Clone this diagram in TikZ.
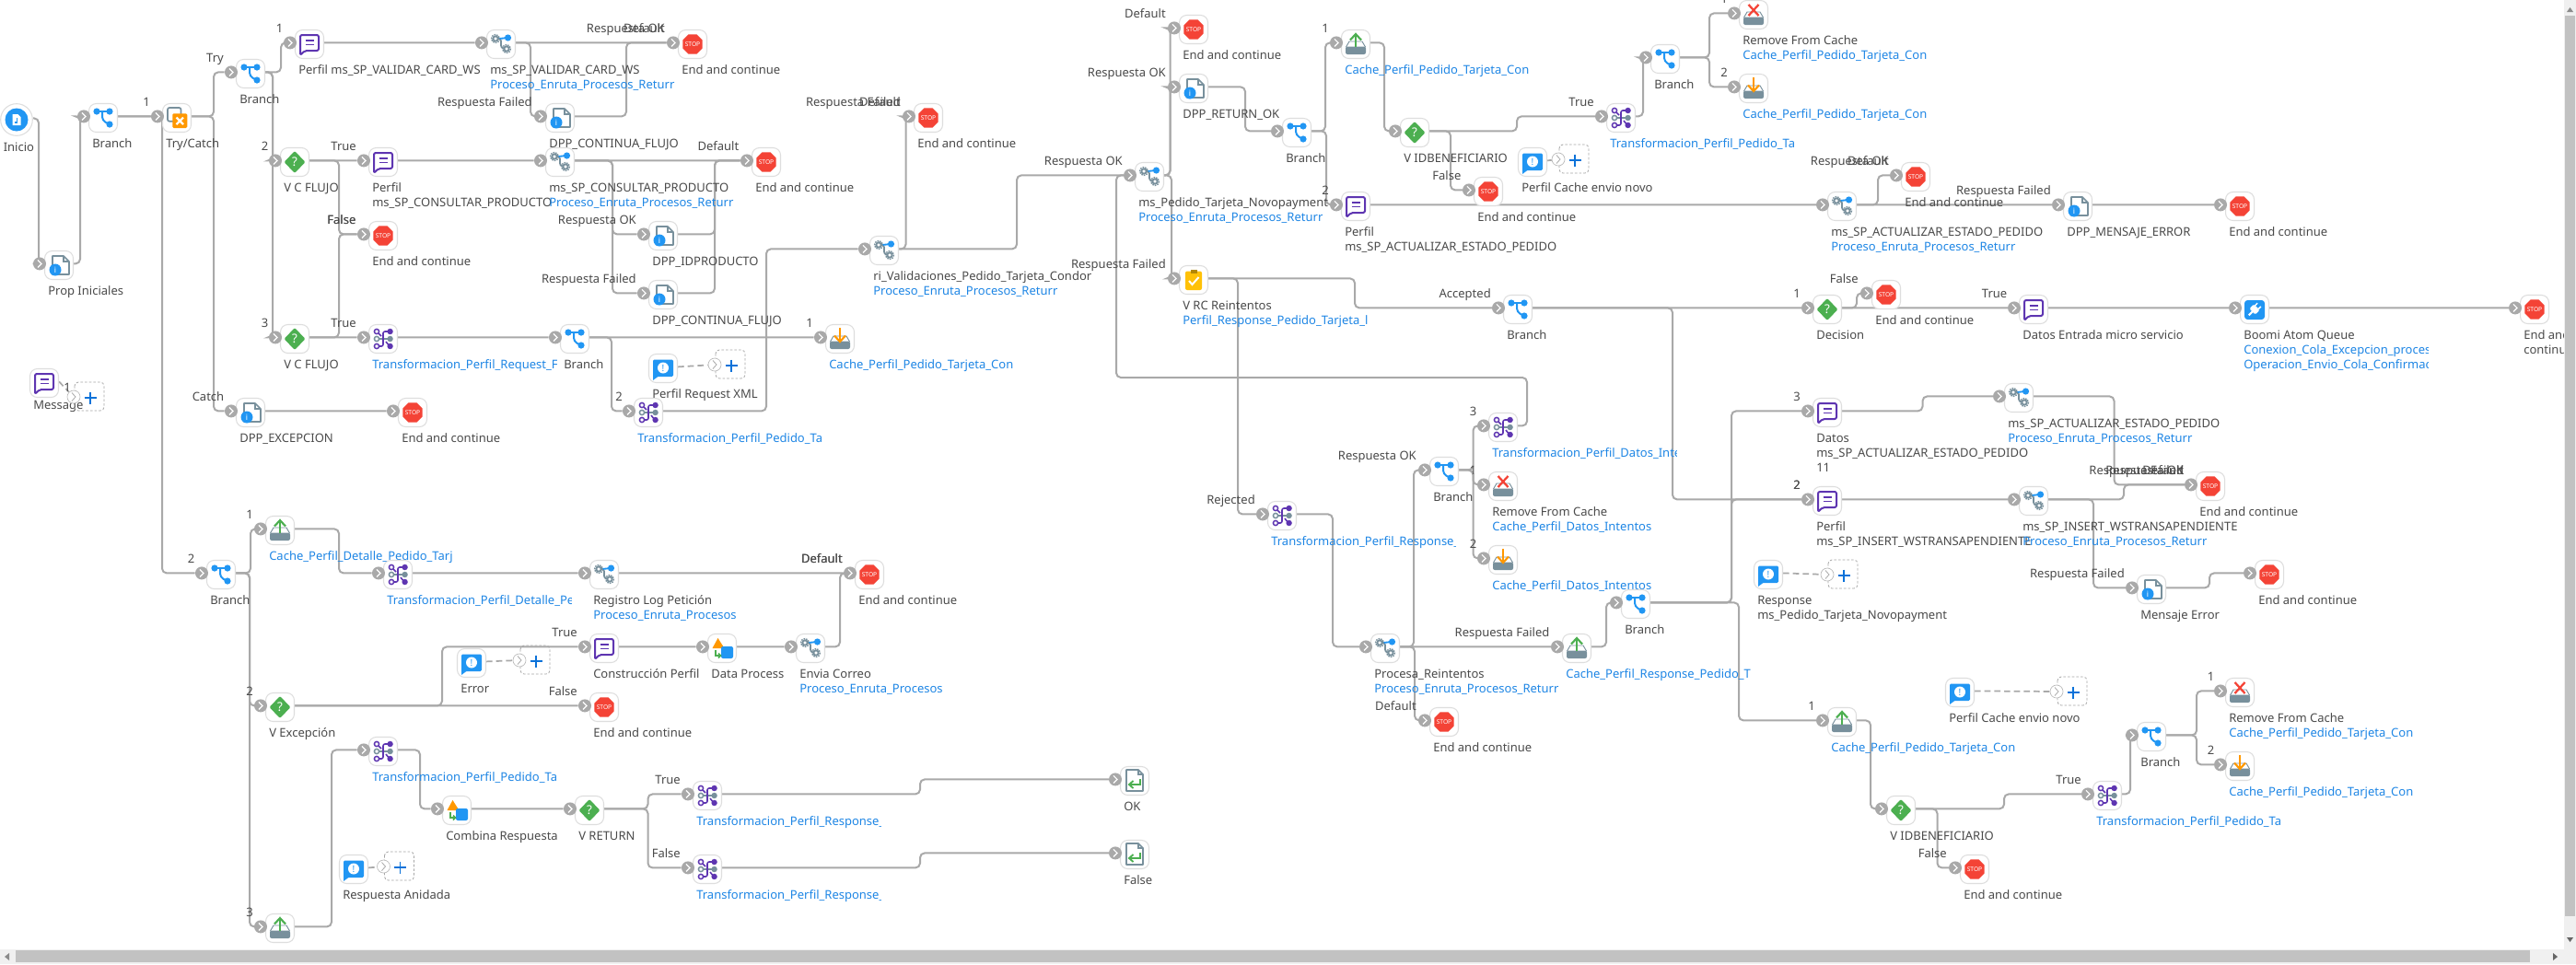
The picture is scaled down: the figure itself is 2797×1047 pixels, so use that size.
\documentclass[tikz,border=0pt]{standalone}
\usepackage{fontspec}
\setmainfont{Noto Sans}
\newcounter{lbl}
\pgfdeclarelayer{bg}
\pgfsetlayers{bg,main}
\definecolor{cwire}{HTML}{A9A9A9}
\definecolor{cborder}{HTML}{DEDEDE}
\definecolor{ctext}{HTML}{4A4A4A}
\definecolor{clink}{HTML}{1E86E5}
\definecolor{cblue}{HTML}{2196F3}
\definecolor{cslate}{HTML}{78909C}
\definecolor{cpurple}{HTML}{5E35B1}
\definecolor{cgreen}{HTML}{4CAF50}
\definecolor{cred}{HTML}{F44336}
\definecolor{corange}{HTML}{FF9800}
\definecolor{cyellow}{HTML}{FFC107}
\definecolor{cplus}{HTML}{0B72D9}
\tikzset{
 autoname/.code={\stepcounter{lbl}\tikzset{name=lbl\arabic{lbl}}},
 nbox/.style={draw=cborder,fill=white,line width=.8pt,rounded corners=6pt,minimum size=23.25pt,inner sep=0pt},
 startbox/.style={draw=cborder,fill=white,line width=.8pt,circle,minimum size=26pt,inner sep=0pt},
 portdot/.style={circle,fill=cwire,minimum size=10.5pt,inner sep=0pt},
 ghostdot/.style={circle,draw=cwire!80,fill=white,line width=.5pt,minimum size=10.5pt,inner sep=0pt},
 wire/.style={draw=cwire,line width=1.5pt,rounded corners=3.75pt},
 dashwire/.style={draw=cwire,line width=1.3pt,dash pattern=on 5pt off 3pt},
 glab/.style={autoname,anchor=base west,inner sep=0pt,text=ctext,font=\fontsize{9.75}{12}\selectfont},
 blab/.style={autoname,anchor=base west,inner sep=0pt,text=clink,font=\fontsize{9.75}{12}\selectfont},
 elab/.style={autoname,anchor=base east,inner sep=0pt,text=ctext,font=\fontsize{9.75}{12}\selectfont},
 nlab/.style={autoname,anchor=base,inner sep=0pt,text=ctext,font=\fontsize{9.75}{12}\selectfont},
 glyphw/.style={autoname,inner sep=0pt,text=white,font=\fontsize{6}{6}\selectfont\bfseries},
}
% --- icons
\newcommand\gearic[2]{\draw[cslate,line width=1.1pt,dash pattern=on 1.2pt off .8pt] (#1,#2) circle[radius=4.4];\draw[cslate,line width=1.3pt,fill=white] (#1,#2) circle[radius=2.6];}
\newcommand\icBranch{\draw[cblue,line width=1.5pt] (-7,-7)--(7,-7);\draw[cblue,line width=1.5pt,rounded corners=3pt] (-1,-7)--(-1,3)--(7,7);
 \fill[cblue] (-7,-7) circle[radius=3.6] (7,-7) circle[radius=3.6] (7,7) circle[radius=3.6];}
\newcommand\icProc{\draw[cslate,line width=1.4pt,rounded corners=2pt] (-5,-6)--(0,-6)--(0,4)--(6,5);\draw[cblue,line width=1.4pt] (-2,-6)--(7,-7);
 \gearic{-6}{-6}\gearic{6}{5}\fill[cblue] (7.5,-7) circle[radius=3.6];}
\newcommand\icMsg{\draw[cpurple,line width=1.5pt,line join=round,rounded corners=1.5pt] (-10,-10)--(10,-10)--(10,7)--(-5,7)--(-10,12)--cycle;
 \draw[cpurple,line width=1.3pt] (-4.5,-4)--(4.5,-4) (-4.5,.5)--(4.5,.5);}
\newcommand\icDec{\fill[cgreen,rounded corners=1pt] (0,-12)--(11.5,0)--(0,12)--(-11.5,0)--cycle;\node[glyphw,font=\fontsize{10}{10}\selectfont\bfseries] at (0,0) {?};}
\newcommand\icStop{\fill[cred] (22.5:11.5)--(67.5:11.5)--(112.5:11.5)--(157.5:11.5)--(202.5:11.5)--(247.5:11.5)--(292.5:11.5)--(337.5:11.5)--cycle;\node[glyphw,font=\fontsize{5}{5}\selectfont\bfseries] at (0,0) {STOP};}
\newcommand\icDocInfo{\draw[cslate,line width=1.2pt,line join=round,fill=white] (-7,-10)--(5,-10)--(11,-4)--(11,10)--(-7,10)--cycle;\draw[cslate,line width=1.1pt] (5,-10)--(5,-4)--(11,-4);
 \fill[cblue] (-4,5) circle[radius=6.5];\node[glyphw,font=\fontsize{6.5}{6.5}\selectfont\bfseries] at (-4,5) {i};}
\newcommand\icMap{\draw[cpurple,line width=1.1pt] (-7,-8) circle[radius=2.6] (-7,8) circle[radius=2.6];\draw[cslate,line width=1.1pt] (-7,0) circle[radius=2.6];
 \draw[cpurple,line width=1.2pt,rounded corners=1.5pt] (-4.5,8)--(0,8)--(0,-8)--(7,-8);\draw[cpurple,line width=1.2pt] (-5,-6)--(-2,-3) (3,3)--(7,8);\draw[cslate,line width=1.1pt] (-4.5,0)--(-1,0) (1,0)--(7,0);
 \fill[cpurple] (7.6,-8) circle[radius=3.2] (7.6,8) circle[radius=3.2];\fill[cslate] (7.6,0) circle[radius=3.2];}
\newcommand\tray{\draw[cslate,line width=.7pt] (-10.5,3)--(-7,-3)--(7,-3)--(10.5,3);\fill[cslate,rounded corners=1.5pt] (-11,2.5) rectangle (11,11);}
\newcommand\icUp{\tray\draw[cgreen,line width=1.6pt] (0,3)--(0,-10);\draw[cgreen,line width=1.6pt] (-6,-4.5)--(0,-11)--(6,-4.5);}
\newcommand\icDown{\tray\draw[corange,line width=1.6pt] (0,-12)--(0,2);\draw[corange,line width=1.6pt] (-6,-3.5)--(0,3)--(6,-3.5);}
\newcommand\icDel{\tray\draw[cred,line width=1.7pt] (-5.5,-11)--(5.5,1) (5.5,-11)--(-5.5,1);}
\newcommand\icTry{\draw[cslate,line width=1.3pt,rounded corners=1.5pt] (-10,-11) rectangle (4.5,3.7);\fill[corange,rounded corners=1pt] (-4.7,-4.7) rectangle (11.3,11);
 \draw[white,line width=1.6pt] (-.5,-.5)--(7,7) (7,-.5)--(-.5,7);}
\newcommand\icRet{\draw[cslate,line width=1.3pt,line join=round,fill=white] (-9,-12)--(4,-12)--(9,-7)--(9,11)--(-9,11)--cycle;\draw[cslate,line width=1pt] (4,-12)--(4,-7)--(9,-7);
 \draw[cgreen,line width=1.4pt] (6,-2)--(6,4)--(-5,4);\draw[cgreen,line width=1.4pt] (-1.5,0)--(-6,4)--(-1.5,8);}
\newcommand\icData{\fill[corange] (-4.5,-11)--(2.5,0)--(-10.5,0)--cycle;\fill[cblue,rounded corners=1.5pt] (-1,-2) rectangle (12,11);
 \draw[cgreen,line width=1.4pt] (-7,2)--(-7,8)--(-2,8);\draw[cgreen,line width=1.2pt] (-4,5.5)--(-1.5,8)--(-4,10.5);}
\newcommand\icNote{\fill[cblue,rounded corners=1pt] (-11,-9.5) rectangle (11,9);\fill[cblue] (-11,8)--(-11,13)--(-5,8.5)--cycle;\fill[white] (0,-.5) circle[radius=6];
 \node[glyphw,text=cblue,font=\fontsize{7.5}{7.5}\selectfont\bfseries] at (0,-.5) {!};}
\newcommand\icBoomi{\fill[cblue,rounded corners=2.5pt] (-11,-10) rectangle (11,11);\begin{scope}[rotate=-45]\fill[white,rounded corners=1pt] (-4.5,-3.5) rectangle (4.5,3.5);\draw[white,line width=1.1pt] (-2.6,-7)--(-2.6,-3) (2.6,-7)--(2.6,-3);\draw[white,line width=1.6pt] (0,3)--(0,9);\end{scope}}
\newcommand\icCheck{\fill[cyellow,rounded corners=1.5pt] (-9,-9.5) rectangle (9,11);\fill[cyellow!70!black] (-3.5,-11.5) rectangle (3.5,-7);\draw[white,line width=1.5pt] (-5,1)--(-1.5,5)--(5.5,-3);}
% --- nodes
\newcommand\nd[4]{\node[nbox] (#1) at (#2,#3) {};\node[portdot] (#1-p) at ({#2-21},{#3-1.6}) {};
 \draw[white,line width=.9pt] ({#2-23},{#3-5.6})--({#2-19},{#3-1.6})--({#2-23},{#3+2.4});
 \begin{scope}[shift={(#2,#3)}]#4\end{scope}}
\newcommand\gh[3]{\draw[black!35,line width=.6pt,dash pattern=on 2pt off 1.5pt,rounded corners=3pt] ({#2+1},{#3-16}) rectangle ({#2+33},{#3+15});
 \node[ghostdot] (#1) at (#2,#3) {};\draw[cwire,line width=.6pt] ({#2-2},{#3-4.5})--({#2+2},{#3})--({#2-2},{#3+4.5});
 \draw[cplus,line width=1.2pt] ({#2+11.5},{#3+1})--({#2+24.5},{#3+1}) ({#2+18},{#3-5.5})--({#2+18},{#3+7.5});}
% --- labels
\newcommand\tg[4]{\node[glab] at ({#1-12},{#2+32.5+16*(#3-1)}) {#4};}
\newcommand\tb[4]{\begin{scope}\clip ({#1-12},{#2+32.5+16*(#3-1)-14}) rectangle ++(200,20);\node[blab] at ({#1-12},{#2+32.5+16*(#3-1)}) {#4};\end{scope}}
\newcommand\el[3]{\node[elab] at (#1,{#2+5}) {#3};}
\newcommand\nl[3]{\node[nlab] at (#1,{#2+5}) {#3};}
% --- connectors
\newcommand\cs[2]{\begin{pgfonlayer}{bg}\draw[wire] ([yshift=1.2pt]#1.east) -- (#2-p);\end{pgfonlayer}}
\newcommand\cv[3]{\begin{pgfonlayer}{bg}\draw[wire] ([yshift=1.2pt]#1.east) -| (#3,0 |- #2-p) -- (#2-p);\end{pgfonlayer}}
\newcommand\dv[2]{\begin{pgfonlayer}{bg}\draw[dashwire] ([yshift=1.2pt]#1.east) -- (#2);\end{pgfonlayer}}
\newcommand\E{End and continue}
\newcommand\PR{Proceso\_Enruta\_Procesos\_Returr}
\begin{document}
\begin{tikzpicture}[x=.75pt,y=-.75pt]
\useasboundingbox (0,0) rectangle (2797,1047);
\begin{pgfonlayer}{bg}\fill[white] (0,0) rectangle (2797,1047);\end{pgfonlayer}
% start
\node[startbox] (ini) at (18,130) {};
\fill[cblue] (18,130) circle[radius=12.5];
\fill[white] (13.5,124)--(19.5,124)--(22.5,127)--(22.5,136)--(13.5,136)--cycle;
\draw[cblue,line width=.8pt] (18.5,128)--(18.5,133)--(16,133);
\tg{15.5}{131.5}{1}{Inicio}
% main row nodes
\nd{prop}{64}{288}{\icDocInfo}\tg{64}{288}{1}{Prop Iniciales}
\nd{br1}{112}{128}{\icBranch}\tg{112}{128}{1}{Branch}
\nd{try}{192}{128}{\icTry}\tg{192}{128}{1}{Try/Catch}
\nd{brt}{272}{80}{\icBranch}\tg{272}{80}{1}{Branch}
\nd{pval}{336}{48}{\icMsg}\tg{336}{48}{1}{Perfil ms\_SP\_VALIDAR\_CARD\_WS}
\nd{sval}{544}{48}{\icProc}\tg{544}{48}{1}{ms\_SP\_VALIDAR\_CARD\_WS}\tb{544}{48}{2}{\PR}
\nd{dcon}{608}{128}{\icDocInfo}\tg{608}{128}{1}{DPP\_CONTINUA\_FLUJO}
\nd{st1}{752}{48}{\icStop}\tg{752}{48}{1}{\E}
\nd{vc1}{320}{176}{\icDec}\tg{320}{176}{1}{V C FLUJO}
\nd{pcon}{416}{176}{\icMsg}\tg{416}{176}{1}{Perfil}\tg{416}{176}{2}{ms\_SP\_CONSULTAR\_PRODUCTO}
\nd{scon}{608}{176}{\icProc}\tg{608}{176}{1}{ms\_SP\_CONSULTAR\_PRODUCTO}\tb{608}{176}{2}{\PR}
\nd{st2}{416}{256}{\icStop}\tg{416}{256}{1}{\E}
\nd{st3}{832}{176}{\icStop}\tg{832}{176}{1}{\E}
\nd{did}{720}{256}{\icDocInfo}\tg{720}{256}{1}{DPP\_IDPRODUCTO}
\nd{dcf}{720}{320}{\icDocInfo}\tg{720}{320}{1}{DPP\_CONTINUA\_FLUJO}
\nd{vc2}{320}{368}{\icDec}\tg{320}{368}{1}{V C FLUJO}
\nd{trq}{416}{368}{\icMap}\tb{416}{368}{1}{Transformacion\_Perfil\_Request\_F}
\nd{br2}{624}{368}{\icBranch}\tg{624}{368}{1}{Branch}
\nd{cch1}{912}{368}{\icDown}\tb{912}{368}{1}{Cache\_Perfil\_Pedido\_Tarjeta\_Con}
\nd{tpe1}{704}{448}{\icMap}\tb{704}{448}{1}{Transformacion\_Perfil\_Pedido\_Ta}
\nd{dex}{272}{448}{\icDocInfo}\tg{272}{448}{1}{DPP\_EXCEPCION}
\nd{st4}{448}{448}{\icStop}\tg{448}{448}{1}{\E}
\nd{rival}{960}{272}{\icProc}\tg{960}{272}{1}{ri\_Validaciones\_Pedido\_Tarjeta\_Condor}\tb{960}{272}{2}{\PR}
\nd{st5}{1008}{128}{\icStop}\tg{1008}{128}{1}{\E}
% annotation nodes
\node[nbox] (msg) at (48,416) {};\begin{scope}[shift={(48,416)}]\icMsg\end{scope}\tg{48}{411.5}{1}{Message}
\nl{73}{420}{1}
\gh{gmsg}{80}{431}\dv{msg}{gmsg}
\node[nbox] (prx) at (720,400) {};\begin{scope}[shift={(720,400)}]\icNote\end{scope}\tg{720}{400}{1}{Perfil Request XML}
\gh{gprx}{776}{396}\dv{prx}{gprx}
\node[nbox] (pce1) at (1664,176) {};\begin{scope}[shift={(1664,176)}]\icNote\end{scope}\tg{1664}{176}{1}{Perfil Cache envio novo}
\gh{gpce1}{1692}{173}\dv{pce1}{gpce1}
\node[nbox] (rsp) at (1920,624) {};\begin{scope}[shift={(1920,624)}]\icNote\end{scope}\tg{1920}{624}{1}{Response}\tg{1920}{624}{2}{ms\_Pedido\_Tarjeta\_Novopayment}
\gh{grsp}{1984}{624}\dv{rsp}{grsp}
\node[nbox] (pce2) at (2128,752) {};\begin{scope}[shift={(2128,752)}]\icNote\end{scope}\tg{2128}{752}{1}{Perfil Cache envio novo}
\gh{gpce2}{2233}{751}\dv{pce2}{gpce2}
\node[nbox] (err) at (512,720) {};\begin{scope}[shift={(512,720)}]\icNote\end{scope}\tg{512}{720}{1}{Error}
\gh{gerr}{564}{717}\dv{err}{gerr}
\node[nbox] (ran) at (384,944) {};\begin{scope}[shift={(384,944)}]\icNote\end{scope}\tg{384}{944}{1}{Respuesta Anidada}
\gh{gran}{416.5}{941}\dv{ran}{gran}
% middle
\nd{ped}{1248}{192}{\icProc}\tg{1248}{192}{1}{ms\_Pedido\_Tarjeta\_Novopayment}\tb{1248}{192}{2}{\PR}
\nd{st6}{1296}{32}{\icStop}\tg{1296}{32}{1}{\E}
\nd{dret}{1296}{96}{\icDocInfo}\tg{1296}{96}{1}{DPP\_RETURN\_OK}
\nd{vrc}{1296}{304}{\icCheck}\tg{1296}{304}{1}{V RC Reintentos}\tb{1296}{304}{2}{Perfil\_Response\_Pedido\_Tarjeta\_l}
\nd{br3}{1408}{144}{\icBranch}\tg{1408}{144}{1}{Branch}
\nd{cup1}{1472}{48}{\icUp}\tb{1472}{48}{1}{Cache\_Perfil\_Pedido\_Tarjeta\_Con}
\nd{vid1}{1536}{144}{\icDec}\tg{1536}{144}{1}{V IDBENEFICIARIO}
\nd{tpe2}{1760}{128}{\icMap}\tb{1760}{128}{1}{Transformacion\_Perfil\_Pedido\_Ta}
\nd{br4}{1808}{64}{\icBranch}\tg{1808}{64}{1}{Branch}
\nd{rm1}{1904}{16}{\icDel}\tg{1904}{16}{1}{Remove From Cache}\tb{1904}{16}{2}{Cache\_Perfil\_Pedido\_Tarjeta\_Con}
\nd{cdn1}{1904}{96}{\icDown}\tb{1904}{96}{1}{Cache\_Perfil\_Pedido\_Tarjeta\_Con}
\nd{st7}{1616}{208}{\icStop}\tg{1616}{208}{1}{\E}
\nd{pact}{1472}{224}{\icMsg}\tg{1472}{224}{1}{Perfil}\tg{1472}{224}{2}{ms\_SP\_ACTUALIZAR\_ESTADO\_PEDIDO}
\nd{sact}{2000}{224}{\icProc}\tg{2000}{224}{1}{ms\_SP\_ACTUALIZAR\_ESTADO\_PEDIDO}\tb{2000}{224}{2}{\PR}
\nd{st8}{2080}{192}{\icStop}\tg{2080}{192}{1}{\E}
\nd{dme}{2256}{224}{\icDocInfo}\tg{2256}{224}{1}{DPP\_MENSAJE\_ERROR}
\nd{st9}{2432}{224}{\icStop}\tg{2432}{224}{1}{\E}
\nd{bra}{1648}{336}{\icBranch}\tg{1648}{336}{1}{Branch}
\nd{dec}{1984}{336}{\icDec}\tg{1984}{336}{1}{Decision}
\nd{st10}{2048}{320}{\icStop}\tg{2048}{320}{1}{\E}
\nd{den}{2208}{336}{\icMsg}\tg{2208}{336}{1}{Datos Entrada micro servicio}
\nd{boo}{2448}{336}{\icBoomi}\tg{2448}{336}{1}{Boomi Atom Queue}\tb{2448}{336}{2}{Conexion\_Cola\_Excepcion\_proces}\tb{2448}{336}{3}{Operacion\_Envio\_Cola\_Confirmac}
\nd{st11}{2752}{336}{\icStop}\tg{2752}{336}{1}{End and}\tg{2752}{336}{2}{continue}
\nd{dat}{1984}{448}{\icMsg}\tg{1984}{448}{1}{Datos}\tg{1984}{448}{2}{ms\_SP\_ACTUALIZAR\_ESTADO\_PEDIDO}\tg{1984}{448}{3}{11}
\nd{sac2}{2192}{432}{\icProc}\tg{2192}{432}{1}{ms\_SP\_ACTUALIZAR\_ESTADO\_PEDIDO}\tb{2192}{432}{2}{\PR}
\nd{tdat}{1632}{464}{\icMap}\tb{1632}{464}{1}{Transformacion\_Perfil\_Datos\_Inte}
\nd{br5}{1568}{512}{\icBranch}\tg{1568}{512}{1}{Branch}
\nd{rm2}{1632}{528}{\icDel}\tg{1632}{528}{1}{Remove From Cache}\tb{1632}{528}{2}{Cache\_Perfil\_Datos\_Intentos}
\nd{cdn2}{1632}{608}{\icDown}\tb{1632}{608}{1}{Cache\_Perfil\_Datos\_Intentos}
\nd{pin}{1984}{544}{\icMsg}\tg{1984}{544}{1}{Perfil}\tg{1984}{544}{2}{ms\_SP\_INSERT\_WSTRANSAPENDIENTE}
\nd{sin}{2208}{544}{\icProc}\tg{2208}{544}{1}{ms\_SP\_INSERT\_WSTRANSAPENDIENTE}\tb{2208}{544}{2}{\PR}
\nd{st12}{2400}{528}{\icStop}\tg{2400}{528}{1}{\E}
\nd{mer}{2336}{640}{\icDocInfo}\tg{2336}{640}{1}{Mensaje Error}
\nd{st13}{2464}{624}{\icStop}\tg{2464}{624}{1}{\E}
\nd{trs}{1392}{560}{\icMap}\tb{1392}{560}{1}{Transformacion\_Perfil\_Response\_}
\nd{pre}{1504}{704}{\icProc}\tg{1504}{704}{1}{Procesa\_Reintentos}\tb{1504}{704}{2}{\PR}
\nd{cup2}{1712}{704}{\icUp}\tb{1712}{704}{1}{Cache\_Perfil\_Response\_Pedido\_T}
\nd{br6}{1776}{656}{\icBranch}\tg{1776}{656}{1}{Branch}
\nd{st14}{1568}{784}{\icStop}\tg{1568}{784}{1}{\E}
\nd{cup3}{2000}{784}{\icUp}\tb{2000}{784}{1}{Cache\_Perfil\_Pedido\_Tarjeta\_Con}
\nd{vid2}{2064}{880}{\icDec}\tg{2064}{880}{1}{V IDBENEFICIARIO}
\nd{tpe3}{2288}{864}{\icMap}\tb{2288}{864}{1}{Transformacion\_Perfil\_Pedido\_Ta}
\nd{br7}{2336}{800}{\icBranch}\tg{2336}{800}{1}{Branch}
\nd{rm3}{2432}{752}{\icDel}\tg{2432}{752}{1}{Remove From Cache}\tb{2432}{752}{2}{Cache\_Perfil\_Pedido\_Tarjeta\_Con}
\nd{cdn3}{2432}{832}{\icDown}\tb{2432}{832}{1}{Cache\_Perfil\_Pedido\_Tarjeta\_Con}
\nd{st15}{2144}{944}{\icStop}\tg{2144}{944}{1}{\E}
% lower left
\nd{br8}{240}{624}{\icBranch}\tg{240}{624}{1}{Branch}
\nd{cup4}{304}{576}{\icUp}\tb{304}{576}{1}{Cache\_Perfil\_Detalle\_Pedido\_Tarj}
\nd{tde}{432}{624}{\icMap}\tb{432}{624}{1}{Transformacion\_Perfil\_Detalle\_Pe}
\nd{reg}{656}{624}{\icProc}\tg{656}{624}{1}{Registro Log Petición}\tb{656}{624}{2}{Proceso\_Enruta\_Procesos}
\nd{st16}{944}{624}{\icStop}\tg{944}{624}{1}{\E}
\nd{vex}{304}{768}{\icDec}\tg{304}{768}{1}{V Excepción}
\nd{cons}{656}{704}{\icMsg}\tg{656}{704}{1}{Construcción Perfil}
\nd{dpr}{784}{704}{\icData}\tg{784}{704}{1}{Data Process}
\nd{env}{880}{704}{\icProc}\tg{880}{704}{1}{Envia Correo}\tb{880}{704}{2}{Proceso\_Enruta\_Procesos}
\nd{st17}{656}{768}{\icStop}\tg{656}{768}{1}{\E}
\nd{tpe4}{416}{816}{\icMap}\tb{416}{816}{1}{Transformacion\_Perfil\_Pedido\_Ta}
\nd{com}{496}{880}{\icData}\tg{496}{880}{1}{Combina Respuesta}
\nd{vret}{640}{880}{\icDec}\tg{640}{880}{1}{V RETURN}
\nd{cup5}{304}{1008}{\icUp}
\nd{trs1}{768}{864}{\icMap}\tb{768}{864}{1}{Transformacion\_Perfil\_Response\_}
\nd{trs2}{768}{944}{\icMap}\tb{768}{944}{1}{Transformacion\_Perfil\_Response\_}
\nd{rok}{1232}{848}{\icRet}\tg{1232}{848}{1}{OK}
\nd{rfa}{1232}{928}{\icRet}\tg{1232}{928}{1}{False}
% connectors
\cv{ini}{prop}{42}
\cv{prop}{br1}{87}
\cs{br1}{try}
\cv{br1}{br8}{176}
\cv{try}{brt}{232}
\cv{try}{dex}{232}
\cs{dex}{st4}
\cv{brt}{pval}{305}
\cv{brt}{vc1}{296}
\cv{brt}{vc2}{296}
\cs{pval}{sval}
\cs{sval}{st1}
\cv{sval}{dcon}{576}
\cv{dcon}{st1}{680}
\cs{vc1}{pcon}
\cv{vc1}{st2}{368}
\cs{vc2}{trq}
\cv{vc2}{st2}{368}
\cs{pcon}{scon}
\cs{scon}{st3}
\cv{scon}{did}{665}
\cv{scon}{dcf}{665}
\cv{did}{st3}{776}
\cv{dcf}{st3}{776}
\cs{trq}{br2}
\cs{br2}{cch1}
\cv{br2}{tpe1}{664}
\cv{tpe1}{rival}{832}
\cv{rival}{st5}{983.5}
\cv{rival}{ped}{1104}
\cv{ped}{st6}{1270.5}
\cv{ped}{dret}{1270.5}
\cv{ped}{vrc}{1272}
\cv{dret}{br3}{1352}
\cv{br3}{cup1}{1439}
\cv{br3}{pact}{1440}
\cv{cup1}{vid1}{1503}
\cv{vid1}{tpe2}{1647}
\cv{vid1}{st7}{1575}
\cv{tpe2}{br4}{1784}
\cv{br4}{rm1}{1856}
\cv{br4}{cdn1}{1856}
\cs{pact}{sact}
\cv{sact}{st8}{2039}
\cs{sact}{dme}
\cs{dme}{st9}
\cv{vrc}{bra}{1471}
\cv{vrc}{trs}{1344}
\begin{pgfonlayer}{bg}\draw[wire] ([yshift=1.2pt]tdat.east) -| (1658,410) -| (1212,0 |- ped-p) -- (ped-p);\end{pgfonlayer}
\cs{bra}{dec}
\cv{bra}{pin}{1816}
\cv{dec}{st10}{2016}
\cs{dec}{den}
\cs{den}{boo}
\cs{boo}{st11}
\cv{dat}{sac2}{2087.5}
\cv{sac2}{st12}{2295.5}
\cs{pin}{sin}
\cv{sin}{st12}{2306}
\cv{sin}{mer}{2273}
\cv{mer}{st13}{2399}
\cv{trs}{pre}{1447}
\cv{pre}{br5}{1535}
\cs{pre}{cup2}
\cv{pre}{st14}{1536}
\cv{br5}{tdat}{1599.5}
\cv{br5}{rm2}{1599.5}
\cv{br5}{cdn2}{1599.5}
\cv{cup2}{br6}{1744}
\cv{br6}{dat}{1880}
\cv{br6}{pin}{1880}
\cv{br6}{cup3}{1888}
\cv{cup3}{vid2}{2031}
\cv{vid2}{tpe3}{2176}
\cv{vid2}{st15}{2103.5}
\cv{tpe3}{br7}{2313}
\cv{br7}{rm3}{2385}
\cv{br7}{cdn3}{2385}
\cv{br8}{cup4}{272}
\cv{br8}{vex}{271}
\cv{br8}{cup5}{271}
\cv{cup4}{tde}{368}
\cs{tde}{reg}
\cs{reg}{st16}
\cv{vex}{cons}{480}
\cs{vex}{st17}
\cs{cons}{dpr}
\cs{dpr}{env}
\cv{env}{st16}{912}
\cv{cup5}{tpe4}{360}
\cv{tpe4}{com}{456}
\cs{com}{vret}
\cv{vret}{trs1}{703.5}
\cv{vret}{trs2}{703.5}
\cv{trs1}{rok}{999}
\cv{trs2}{rfa}{999}
% connector labels
\nl{159}{110.5}{1}
\el{243}{62.5}{Try}
\el{243.5}{430}{Catch}
\nl{207.6}{606}{2}
\nl{303.6}{30}{1}\nl{287.5}{158}{2}\nl{287.5}{350}{3}
\el{722}{30}{Respuesta OK}\el{722}{30}{Default}
\el{578}{110.5}{Respuesta Failed}
\el{387}{158}{True}\el{386.6}{238}{False}\el{386.6}{238}{False}\el{387}{350}{True}
\el{691}{238}{Respuesta OK}\el{691}{302.5}{Respuesta Failed}
\el{802.5}{158}{Default}
\nl{879}{350}{1}\nl{672}{430}{2}
\el{978}{110.5}{Default}\el{978}{110.5}{Respuesta Failed}
\el{1219}{174.5}{Respuesta OK}
\el{1266}{14.5}{Default}\el{1266}{78.5}{Respuesta OK}\el{1266}{286.5}{Respuesta Failed}
\nl{1439}{30}{1}\nl{1439}{206}{2}
\el{1731}{110.5}{True}\el{1586.6}{190}{False}
\nl{1872}{-2}{1}\nl{1872}{78.5}{2}
\el{2051}{174.5}{Default}\el{2051}{174.5}{Respuesta OK}
\el{2227}{206}{Respuesta Failed}
\el{1619}{318.5}{Accepted}
\nl{1951}{318}{1}\nl{1951}{526}{2}\nl{1951}{526}{2}\nl{1951}{430}{3}
\el{2018}{302.5}{False}\el{2179.5}{318}{True}
\el{2371.4}{510.5}{Respuesta Failed}\el{2371.4}{510.5}{Respuesta OK}\el{2371.4}{510.5}{Default}
\el{2307}{622.5}{Respuesta Failed}
\el{1363}{542}{Rejected}
\el{1538}{494.6}{Respuesta OK}\el{1682.6}{686}{Respuesta Failed}\el{1538}{766.5}{Default}
\nl{1599.5}{446}{3}\nl{1599.5}{510}{1}\nl{1599.5}{590}{2}
\nl{1967}{766}{1}
\el{2260}{846.6}{True}\el{2114}{926.7}{False}
\nl{2400.5}{734}{1}\nl{2400.5}{814.5}{2}
\nl{271}{558}{1}\nl{271}{750}{2}\nl{271}{990}{3}
\el{915}{606}{Default}\el{915}{606}{Default}
\el{627}{686}{True}\el{627}{750}{False}
\el{739}{846.6}{True}\el{739}{926.7}{False}
% scrollbars
\fill[black!6] (2784,0) rectangle (2797,1047);
\fill[black!6] (0,1031) rectangle (2797,1047);
\fill[black!24] (2785,17) rectangle (2796,995);
\fill[black!24] (17,1032) rectangle (2747,1045);
\fill[black!45] (2787,13)--(2794,13)--(2790.5,8)--cycle;
\fill[black!60] (2787,1018)--(2794,1018)--(2790.5,1023)--cycle;
\fill[black!45] (10,1035)--(10,1043)--(5,1039)--cycle;
\fill[black!60] (2772,1035)--(2772,1043)--(2777,1039)--cycle;
\end{tikzpicture}
\end{document}
